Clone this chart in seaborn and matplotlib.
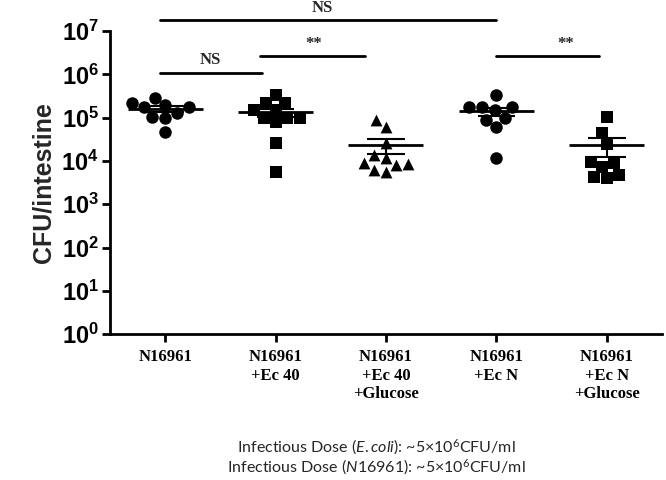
import numpy as np
import pandas as pd
import seaborn as sns
import matplotlib.pyplot as plt

# Groups and values (CFU/intestine)
groups = ["N16961", "N16961\n+Ec 40", "N16961\n+Ec 40\n+Glucose",
          "N16961\n+Ec N", "N16961\n+Ec N\n+Glucose"]
markers = ["o", "s", "^", "o", "s"]

g1 = [2.9e5, 1.95e5, 1.75e5, 1.75e5, 2.2e5, 1.02e5, 1.3e5, 1.0e5, 4.7e4]
g2 = [3.3e5, 2.2e5, 2.2e5, 1.5e5, 1.5e5, 1.0e5, 8.0e4, 1.0e5, 1.0e5, 2.6e4, 5.5e3]
g3 = [8.7e4, 6.0e4, 2.6e4, 1.4e4, 1.2e4, 8.5e3, 8.9e3, 7.9e3, 5.5e3, 6.2e3]
g4 = [3.3e5, 1.75e5, 1.75e5, 1.55e5, 1.75e5, 1.0e5, 8.9e4, 6.0e4, 1.17e4]
g5 = [1.02e5, 4.4e4, 2.45e4, 8.9e3, 9.3e3, 4.7e3, 4.0e3, 4.3e3, 7.1e3]

yticks = [1e0, 1e1, 1e2, 1e3, 1e4, 1e5, 1e6, 1e7]
ytick_labels = [r"$\mathbf{10^{%d}}$" % i for i in range(8)]

df = pd.DataFrame({
    "group": [groups[0]] * len(g1) + [groups[1]] * len(g2) + [groups[2]] * len(g3)
             + [groups[3]] * len(g4) + [groups[4]] * len(g5),
    "cfu": g1 + g2 + g3 + g4 + g5,
})

sns.set_theme(style="ticks")
plt.rcParams["font.family"] = ["Liberation Sans", "DejaVu Sans"]
plt.rcParams["mathtext.fontset"] = "custom"
plt.rcParams["mathtext.bf"] = "Liberation Sans:bold"
plt.rcParams["mathtext.it"] = "Lato:italic"
plt.rcParams["mathtext.rm"] = "Lato"
plt.rcParams["mathtext.default"] = "regular"

fig = plt.figure(figsize=(6.66, 4.8), dpi=100)
ax = fig.add_axes([0.165, 0.304, 0.829, 0.631])
ax.set_yscale("log")
ax.set_ylim(1e0, 1e7)
ax.set_xlim(-0.5, 4.5)

for grp, mk in zip(groups, markers):
    sub = df[df["group"] == grp]
    sns.swarmplot(data=sub, x="group", y="cfu", order=groups, marker=mk,
                  color="black", size=9 if mk == "o" else 8.5, ax=ax, zorder=3)

# mean and SEM
stats = df.groupby("group", sort=False)["cfu"].agg(["mean", "sem"])
for i, grp in enumerate(groups):
    m, s = stats.loc[grp, "mean"], stats.loc[grp, "sem"]
    ax.hlines(m, i - 0.34, i + 0.34, color="black", lw=2, zorder=4)
    ax.vlines(i, m - s, m + s, color="black", lw=1.5, zorder=4)
    ax.hlines([m - s, m + s], i - 0.17, i + 0.17, color="black", lw=1.5, zorder=4)

ax.set_xlim(-0.5, 4.5)
ax.set_yticks(yticks)
ax.set_yticklabels(ytick_labels, fontsize=17)
ax.minorticks_off()
ax.set_xticks(range(len(groups)))
ax.set_xticklabels(groups, fontsize=12, fontweight="bold",
                   family=["Liberation Serif", "DejaVu Serif"], linespacing=1.2)
ax.set_xlabel("")
ax.set_ylabel("CFU/intestine", fontsize=18, fontweight="bold", labelpad=4)
ax.tick_params(axis="both", direction="out", length=6, width=2, colors="black")
ax.tick_params(axis="y", pad=2)
ax.tick_params(axis="x", pad=5)
for side in ["left", "bottom"]:
    ax.spines[side].set_linewidth(2)
    ax.spines[side].set_color("black")
sns.despine(ax=ax)

# significance bars
sig = [(-0.05, 3.0, 10 ** 7.25, 1.42, 10 ** 7.53, "NS"),
       (-0.05, 0.88, 10 ** 6.03, 0.41, 10 ** 6.33, "NS"),
       (0.86, 1.81, 10 ** 6.42, 1.35, 10 ** 6.70, "**"),
       (3.0, 3.93, 10 ** 6.42, 3.63, 10 ** 6.70, "**")]
for x0, x1, yl, xt, yt, txt in sig:
    ax.plot([x0, x1], [yl, yl], color="black", lw=2, clip_on=False)
    ax.text(xt, yt, txt, ha="center", va="center", fontsize=12, fontweight="bold",
            family=["Liberation Serif", "DejaVu Serif"], clip_on=False)

note = ["Infectious Dose ($\\it{E.coli}$): ~5\u00d710$^{6}$CFU/ml",
        "Infectious Dose ($\\it{N16961}$): ~5\u00d710$^{6}$CFU/ml"]
for k, line in enumerate(note):
    fig.text(376 / 666, 1 - (447 + 20 * k) / 480, line, ha="center", va="center",
             fontsize=11.5, family=["Lato", "DejaVu Sans"])

fig.savefig("out.png", dpi=100)
